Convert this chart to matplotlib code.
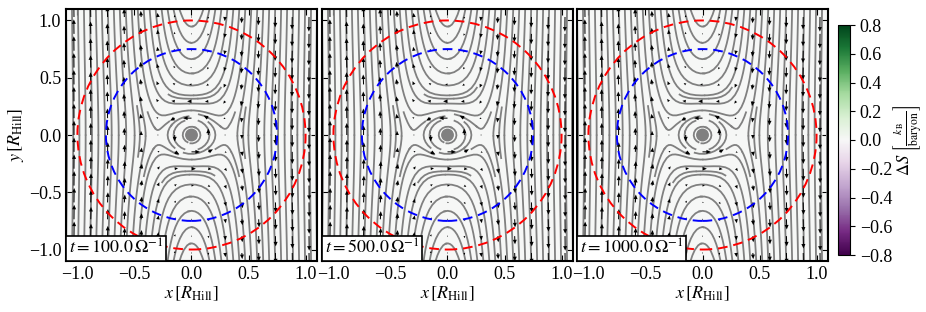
import numpy as np
import matplotlib
matplotlib.use("Agg")
import matplotlib.pyplot as plt
from matplotlib.patches import Circle

plt.rcParams['font.family'] = ['Liberation Serif', 'DejaVu Serif']
plt.rcParams['mathtext.fontset'] = 'stix'
plt.rcParams['font.size'] = 13

# snapshot times (in 1/Omega)
times = [100.0, 500.0, 1000.0]
time_labels = [r'$t = 100.0\,\Omega^{-1}$', r'$t = 500.0\,\Omega^{-1}$', r'$t = 1000.0\,\Omega^{-1}$']

# circles and planet (in R_Hill)
r_hill = 1.0
r_inner = 0.75
planet_radius = 0.05

# flow model parameters: shear flow + softened planet term
shear_rate = 1.5
planet_strength = 0.056
softening = 0.15

# entropy perturbation is ~0 everywhere in these snapshots
ds_level = 0.0
ds_min, ds_max = -0.8, 0.8
cbar_ticks = [-0.8, -0.6, -0.4, -0.2, 0.0, 0.2, 0.4, 0.6, 0.8]
axis_ticks = [-1.0, -0.5, 0.0, 0.5, 1.0]
lim = 1.1


def velocity(x, y):
    d3 = (x**2 + y**2 + softening**2) ** 1.5
    vx = -planet_strength * y / d3
    vy = -shear_rate * x + planet_strength * x / d3
    return vx, vy


fig = plt.figure(figsize=(9.26, 3.12), dpi=100)
lefts = [66 / 926, 322 / 926, 577 / 926]
bottom = (312 - 261) / 312
width = 251 / 926
height = 252 / 312

xs = np.linspace(-lim, lim, 220)
X, Y = np.meshgrid(xs, xs)
VX, VY = velocity(X, Y)
DS = np.full_like(X, ds_level)

xq = np.linspace(-1.03, 1.03, 15)
XQ, YQ = np.meshgrid(xq, xq)
UQ, WQ = velocity(XQ, YQ)
qmask = np.sqrt(XQ**2 + YQ**2) < 0.08
UQ = np.ma.array(UQ, mask=qmask)
WQ = np.ma.array(WQ, mask=qmask)

for i, left in enumerate(lefts):
    ax = fig.add_axes([left, bottom, width, height])
    mesh = ax.pcolormesh(X, Y, DS, cmap='PRGn', vmin=ds_min, vmax=ds_max, shading='auto')
    ax.streamplot(xs, xs, VX, VY, density=1.45, color='0.5', linewidth=1.3,
                  arrowstyle='-', minlength=0.15)
    ax.quiver(XQ, YQ, UQ, WQ, color='black', scale_units='xy', scale=12,
              width=0.004, headwidth=4, headlength=4.5, zorder=3)
    ax.add_patch(Circle((0, 0), r_hill, fill=False, ec='red', ls=(0, (5, 3)), lw=1.4, zorder=4))
    ax.add_patch(Circle((0, 0), r_inner, fill=False, ec='blue', ls=(0, (5, 3)), lw=1.4, zorder=4))
    ax.add_patch(Circle((0, 0), planet_radius, color='0.5', zorder=5))
    ax.set_xlim(-lim, lim)
    ax.set_ylim(-lim, lim)
    ax.set_xticks(axis_ticks)
    ax.set_yticks(axis_ticks)
    ax.tick_params(direction='in', top=True, right=True, length=4, labelsize=13)
    for sp in ax.spines.values():
        sp.set_linewidth(1.5)
    ax.set_xlabel(r'$x\,[R_\mathrm{Hill}]$', fontsize=13, labelpad=1)
    if i == 0:
        ax.set_ylabel(r'$y\,[R_\mathrm{Hill}]$', fontsize=13, labelpad=2)
    else:
        ax.set_yticklabels([])
    ax.text(0.012, 0.012, time_labels[i], transform=ax.transAxes, fontsize=13,
            ha='left', va='bottom', zorder=6,
            bbox=dict(facecolor='white', edgecolor='black', boxstyle='square,pad=0.15', lw=1.2))

cax = fig.add_axes([838 / 926, (312 - 255) / 312, 12 / 926, 230 / 312])
cb = fig.colorbar(mesh, cax=cax, ticks=cbar_ticks)
cb.ax.tick_params(labelsize=13)
cb.set_label(r'$\Delta S\ \left[\frac{k_\mathrm{B}}{\mathrm{baryon}}\right]$', fontsize=12, labelpad=0)

fig.savefig('out.png', dpi=100)
